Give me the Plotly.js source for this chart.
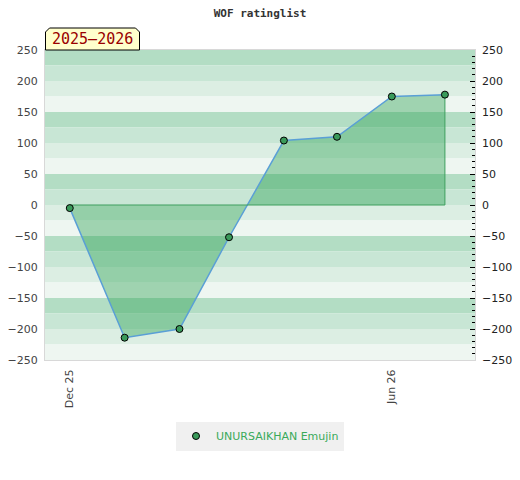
<!DOCTYPE html>
<html><head><meta charset="utf-8">
<script src="https://cdn.plot.ly/plotly-3.0.1.min.js"></script>
<style>html,body{margin:0;padding:0;background:#fff}</style>
</head><body>
<div id="chart" style="width:520px;height:480px"></div>
<script>
const dates = ['2025-12-01','2026-01-01','2026-02-01','2026-03-01','2026-04-01','2026-05-01','2026-06-01','2026-07-01'];
const ratingChange = [-5, -214, -200, -52, 104, 110, 175, 178];
const playerName = 'UNURSAIKHAN Emujin';
const tickDates = ['2025-12-01','2026-06-01'];
const tickLabels = ['Dec 25','Jun 26'];
const seasonLabel = '2025–2026';
const chartTitle = 'WOF ratinglist';

const bandColors = ['#b3ddc4','#c8e6d5','#dceee3','#eef6f1'];
const shapes = [];
for (let i = 0; i < 20; i++) {
  const top = 250 - i*25;
  shapes.push({type:'rect', xref:'paper', yref:'y', x0:0, x1:1, y0:top-25, y1:top,
    fillcolor: bandColors[i%4], line:{width:0}, layer:'below'});
}
// season label box (clipped top corners)
const px = v => (v-45)/430, py = v => (360-v)/310;
shapes.push({type:'path', xref:'paper', yref:'paper',
  path:`M ${px(45.5)} ${py(50)} L ${px(45.5)} ${py(32)} L ${px(49.5)} ${py(28)} L ${px(135.5)} ${py(28)} L ${px(139.5)} ${py(32)} L ${px(139.5)} ${py(50)} Z`,
  fillcolor:'#ffffcc', line:{color:'#000', width:1}, layer:'above'});

const last = dates.length-1;
const traces = [
  {x:dates, y:ratingChange, type:'scatter', mode:'lines', fill:'tozeroy',
   fillcolor:'rgba(40,160,80,0.4)', line:{color:'#5a9fd6', width:1.5}, showlegend:false, hoverinfo:'skip'},
  {x:[dates[0], dates[last], dates[last]], y:[0, 0, ratingChange[last]], type:'scatter', mode:'lines',
   line:{color:'#3f9f5f', width:1}, showlegend:false, hoverinfo:'skip'},
  {x:dates, y:ratingChange, type:'scatter', mode:'markers', name:playerName,
   marker:{color:'#3a9a5a', size:7, line:{color:'#000', width:1}}},
  {x:dates, y:ratingChange, type:'scatter', mode:'none', yaxis:'y2', showlegend:false, hoverinfo:'skip'}
];

const layout = {
  width:520, height:480,
  margin:{l:45, r:45, t:50, b:120, autoexpand:false},
  paper_bgcolor:'#fff', plot_bgcolor:'#fff',
  title:{text:chartTitle, x:0.5, xanchor:'center', y:0.973, yanchor:'middle',
    font:{family:'DejaVu Sans Mono', size:11, color:'#333', weight:'bold'}},
  xaxis:{type:'date', range:['2025-11-17','2026-07-18'], tickvals:tickDates, ticktext:tickLabels,
    tickangle:-90, showgrid:false, zeroline:false, ticks:'', automargin:false, ticklabelstandoff:4,
    showline:true, linecolor:'#d8d8d8', mirror:true,
    tickfont:{family:'DejaVu Sans', size:11, color:'#444'}},
  yaxis:{range:[-250,250], dtick:50, showgrid:false, zeroline:false, ticks:'', automargin:false,
    ticklabelstandoff:4,
    showline:true, linecolor:'#d8d8d8', mirror:true,
    tickfont:{family:'DejaVu Sans', size:11, color:'#444'}},
  yaxis2:{range:[-250,250], dtick:50, overlaying:'y', side:'right', showgrid:false, zeroline:false,
    ticks:'inside', ticklen:5, tickcolor:'#000', tickwidth:1, automargin:false, ticklabelstandoff:6,
    minor:{dtick:10, ticks:'inside', ticklen:3, tickcolor:'#000', showgrid:false},
    tickfont:{family:'DejaVu Sans', size:11, color:'#222'}},
  showlegend:true,
  legend:{orientation:'h', x:0.5, xanchor:'center', y:py(436), yanchor:'middle',
    bgcolor:'#f0f0f0', font:{family:'DejaVu Sans', size:11, color:'#3aaa5a'}},
  shapes:shapes,
  annotations:[{xref:'paper', yref:'paper', x:px(92.5), y:py(39), xanchor:'center', yanchor:'middle',
    text:seasonLabel, showarrow:false, font:{family:'DejaVu Sans Mono', size:15, color:'#990000'}}]
};
Plotly.newPlot('chart', traces, layout, {staticPlot:true});
</script>
</body></html>
